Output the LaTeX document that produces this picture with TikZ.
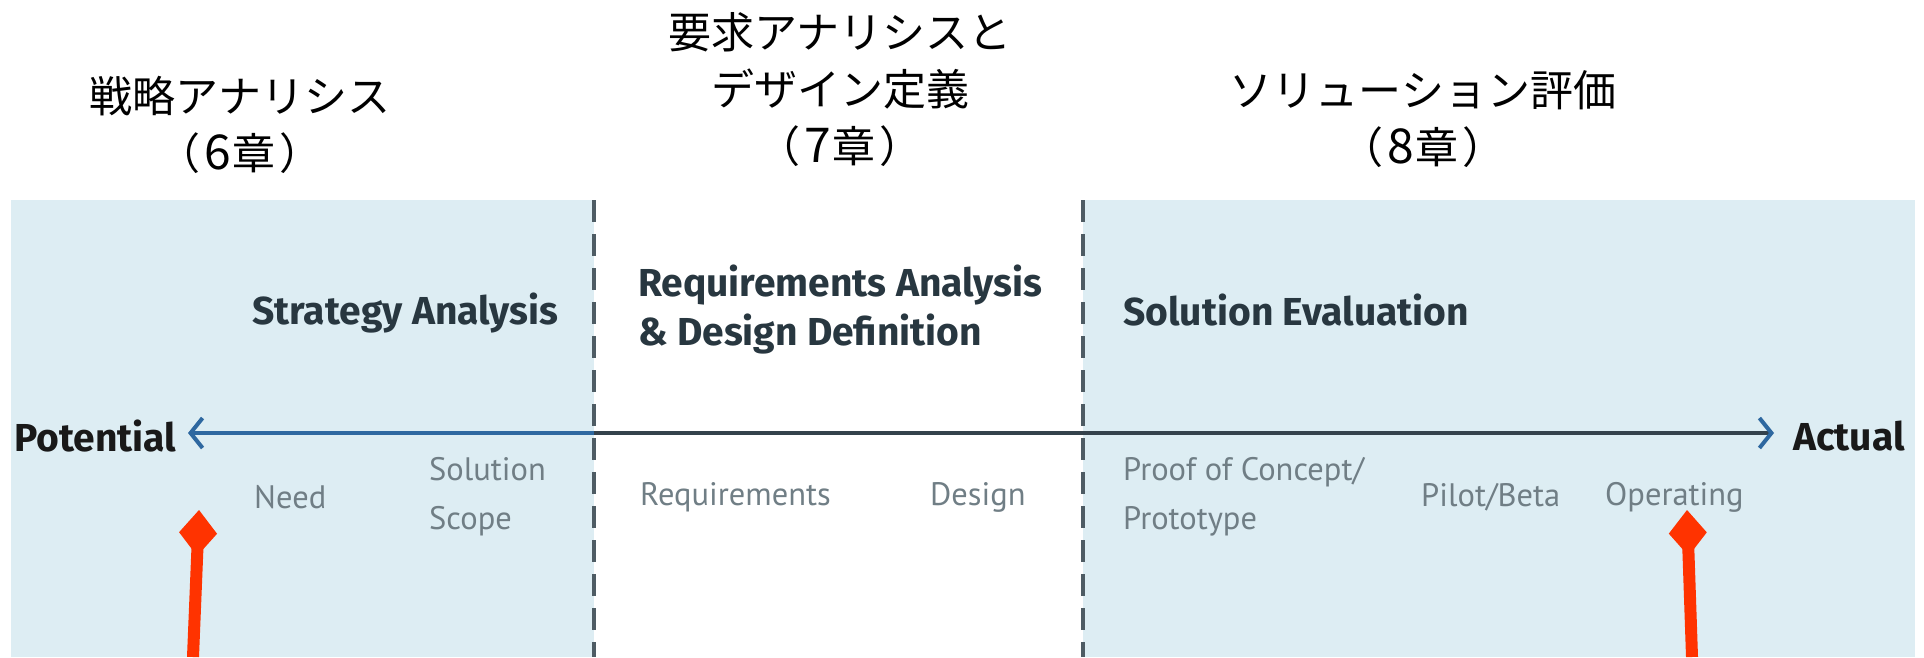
\documentclass[tikz,border=0pt]{standalone}
\usepackage{fontspec}
\setmainfont{PT Sans}
\newfontfamily\headfont{Fira Sans}
\newfontfamily\jp{Noto Sans CJK JP}
\usetikzlibrary{arrows.meta}
\definecolor{panelblue}{RGB}{221,237,243}
\definecolor{headtxt}{RGB}{40,55,64}
\definecolor{greytxt}{RGB}{112,126,133}
\definecolor{dashcol}{RGB}{78,92,100}
\definecolor{axisblue}{RGB}{46,104,160}
\definecolor{axisdark}{RGB}{52,66,76}
\definecolor{redarrow}{RGB}{255,51,0}
\newcommand{\chap}[1]{（\kern0.1em{\fontsize{48}{57}\selectfont #1}\kern0.04em 章\kern0.1em）}
\tikzset{
  jptitle/.style={font=\jp\fontsize{43}{57}\selectfont, align=center, inner sep=0pt, text=black},
  headbox/.style={font=\headfont\bfseries\fontsize{39}{49}\selectfont, align=left, inner sep=0pt, anchor=west, text=headtxt},
  endbox/.style={font=\headfont\bfseries\fontsize{39}{44}\selectfont, inner sep=0pt, text=black!90},
  stagebox/.style={font=\fontsize{32.5}{49}\selectfont, align=left, inner sep=0pt, anchor=west, text=greytxt},
  divider/.style={draw=dashcol, line width=4pt, dash pattern=on 22pt off 12pt},
  redpointer/.style={draw=redarrow, line width=12pt, -{Kite[length=46pt,width=38pt,inset=23pt]}, redarrow},
}
\begin{document}
\begin{tikzpicture}[x=1pt,y=-1pt]
\useasboundingbox (0,0) rectangle (1924,657);
% panels
\fill[panelblue] (11,200) rectangle (594,657);
\fill[panelblue] (1083,200) rectangle (1915,657);
% Japanese titles
\node[jptitle] (jp1) at (240,125) {戦略アナリシス\\\chap{6}};
\node[jptitle] (jp2) at (840,90) {要求アナリシスと\\デザイン定義\\\chap{7}};
\node[jptitle] (jp3) at (1423,119) {ソリューション評価\\\chap{8}};
% dividers
\coordinate (d1top) at (594,200);
\coordinate (d1bot) at (594,657);
\coordinate (d2top) at (1083,200);
\coordinate (d2bot) at (1083,657);
\draw[divider] (d1top) -- (d1bot);
\draw[divider] (d2top) -- (d2bot);
% headings
\node[headbox] (sa) at (252,313) {Strategy Analysis};
\node[headbox] (rad) at (638,310) {Requirements Analysis\\\& Design Definition};
\node[headbox] (se) at (1123,310) {Solution Evaluation};
% axis
\node[endbox, anchor=west] (pot) at (14,436) {Potential};
\node[endbox, anchor=east] (act) at (1905,436) {Actual};
\coordinate (axL) at (188,433);
\coordinate (axM) at (594,433);
\coordinate (axR) at (1774,433);
\draw[axisblue, line width=4pt, {Straight Barb[length=12pt,width=30pt]}-] (axL) -- (axM);
\draw[axisdark, line width=4pt, -{Straight Barb[length=12pt,width=30pt,color=axisblue]}] (axM) -- (axR);
% stage labels
\node[stagebox] (need) at (254,497) {Need};
\node[stagebox] (scope) at (429,497) {Solution\\Scope};
\node[stagebox] (req) at (640,497) {Requirements};
\node[stagebox] (des) at (930,497) {Design};
\node[stagebox] (poc) at (1123,497) {Proof of Concept/\\Prototype};
\node[stagebox] (pilot) at (1421,497) {Pilot/Beta};
\node[stagebox] (oper) at (1605,497) {Operating};
% red pointers
\coordinate (r1b) at (193,657);
\coordinate (r1t) at (199,510);
\coordinate (r2b) at (1692,657);
\coordinate (r2t) at (1687,510);
\draw[redpointer] (r1b) -- (r1t);
\draw[redpointer] (r2b) -- (r2t);
\end{tikzpicture}
\end{document}
